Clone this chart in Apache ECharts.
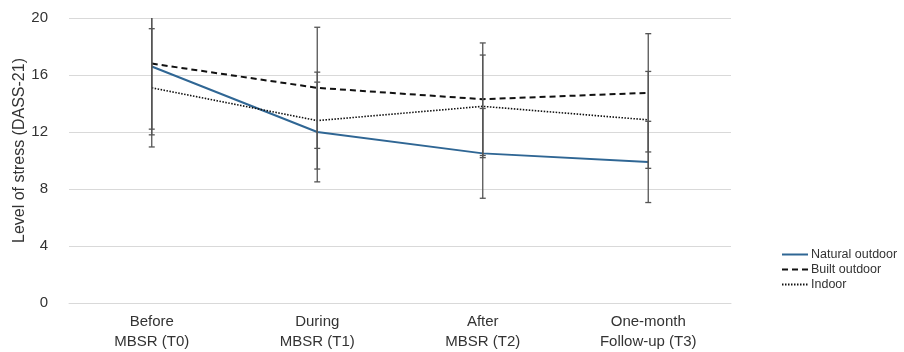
<!DOCTYPE html>
<html>
<head>
<meta charset="utf-8">
<script src="https://cdn.jsdelivr.net/npm/echarts@6/dist/echarts.min.js"></script>
<style>
html,body{margin:0;padding:0;background:#fff;}
#chart{width:904px;height:352px;}
</style>
</head>
<body>
<div id="chart"></div>
<script>
var categories = ['Before\nMBSR (T0)', 'During\nMBSR (T1)', 'After\nMBSR (T2)', 'One-month\nFollow-up (T3)'];
var seriesNames = ['Natural outdoor', 'Built outdoor', 'Indoor'];
var naturalMean = [16.6, 12.0, 10.5, 9.9];
var naturalSD = [4.8, 3.5, 3.15, 2.85];
var builtMean = [16.8, 15.1, 14.3, 14.75];
var builtSD = [4.6, 4.25, 3.95, 4.15];
var indoorMean = [15.1, 12.8, 13.8, 12.85];
var indoorSD = [4.15, 3.4, 3.6, 3.4];
var yTicks = [0, 4, 8, 12, 16, 20];

var FONT = '"Liberation Sans", Arial, Helvetica, sans-serif';

function errData(mean, sd) {
  return mean.map(function (m, i) { return [i, m - sd[i], m + sd[i]]; });
}
function renderErr(params, api) {
  var x = api.value(0);
  var lo = api.coord([x, api.value(1)]);
  var hi = api.coord([x, api.value(2)]);
  var cw = 3;
  var st = { stroke: '#555', lineWidth: 1.3 };
  return {
    type: 'group',
    children: [
      { type: 'line', shape: { x1: lo[0], y1: lo[1], x2: hi[0], y2: hi[1] }, style: st },
      { type: 'line', shape: { x1: lo[0] - cw, y1: lo[1], x2: lo[0] + cw, y2: lo[1] }, style: st },
      { type: 'line', shape: { x1: hi[0] - cw, y1: hi[1], x2: hi[0] + cw, y2: hi[1] }, style: st }
    ]
  };
}

var chart = echarts.init(document.getElementById('chart'), null, { renderer: 'canvas' });
var option = {
  animation: false,
  backgroundColor: '#fff',
  textStyle: { fontFamily: FONT },
  grid: { left: 69, right: 173, top: 18, bottom: 49, containLabel: false, outerBoundsMode: 'none' },
  legend: {
    orient: 'vertical',
    left: 781,
    top: 248,
    padding: 0,
    itemWidth: 26,
    itemHeight: 14,
    itemGap: 2,
    data: seriesNames,
    itemStyle: { opacity: 0 },
    textStyle: { fontFamily: FONT, fontSize: 12.5, color: '#333', padding: [0, 0, 0, -2] }
  },
  xAxis: {
    type: 'category',
    data: categories,
    boundaryGap: true,
    axisLine: { show: true, lineStyle: { color: '#d9d9d9', width: 1 } },
    axisTick: { show: false },
    axisLabel: { fontFamily: FONT, fontSize: 15, color: '#333', lineHeight: 20, margin: 9, interval: 0 }
  },
  yAxis: {
    type: 'value',
    min: yTicks[0],
    max: yTicks[yTicks.length - 1],
    interval: yTicks[1] - yTicks[0],
    name: 'Level of stress (DASS-21)',
    nameLocation: 'middle',
    nameGap: 41,
    nameMoveOverlap: false,
    nameTextStyle: { fontFamily: FONT, fontSize: 16, color: '#333', padding: [0, 0, 0, 20] },
    axisLine: { show: false },
    axisTick: { show: false },
    axisLabel: { fontFamily: FONT, fontSize: 15, color: '#333', margin: 21 },
    splitLine: { lineStyle: { color: '#d9d9d9', width: 1 } }
  },
  series: [
    {
      name: seriesNames[0], type: 'line', data: naturalMean, symbol: 'none',
      lineStyle: { color: '#2f6694', width: 2, type: 'solid' }, itemStyle: { color: '#2f6694' }, z: 3
    },
    {
      name: seriesNames[1], type: 'line', data: builtMean, symbol: 'none',
      lineStyle: { color: '#111', width: 2, type: [6, 4] }, itemStyle: { color: '#111' }, z: 3
    },
    {
      name: seriesNames[2], type: 'line', data: indoorMean, symbol: 'none',
      lineStyle: { color: '#111', width: 1.6, type: [1.5, 1.5] }, itemStyle: { color: '#111' }, z: 3
    },
    { type: 'custom', renderItem: renderErr, data: errData(naturalMean, naturalSD), clip: true, z: 4, encode: { x: 0, y: [1, 2] } },
    { type: 'custom', renderItem: renderErr, data: errData(builtMean, builtSD), clip: true, z: 4, encode: { x: 0, y: [1, 2] } },
    { type: 'custom', renderItem: renderErr, data: errData(indoorMean, indoorSD), clip: true, z: 4, encode: { x: 0, y: [1, 2] } }
  ]
};
chart.setOption(option);
</script>
</body>
</html>
